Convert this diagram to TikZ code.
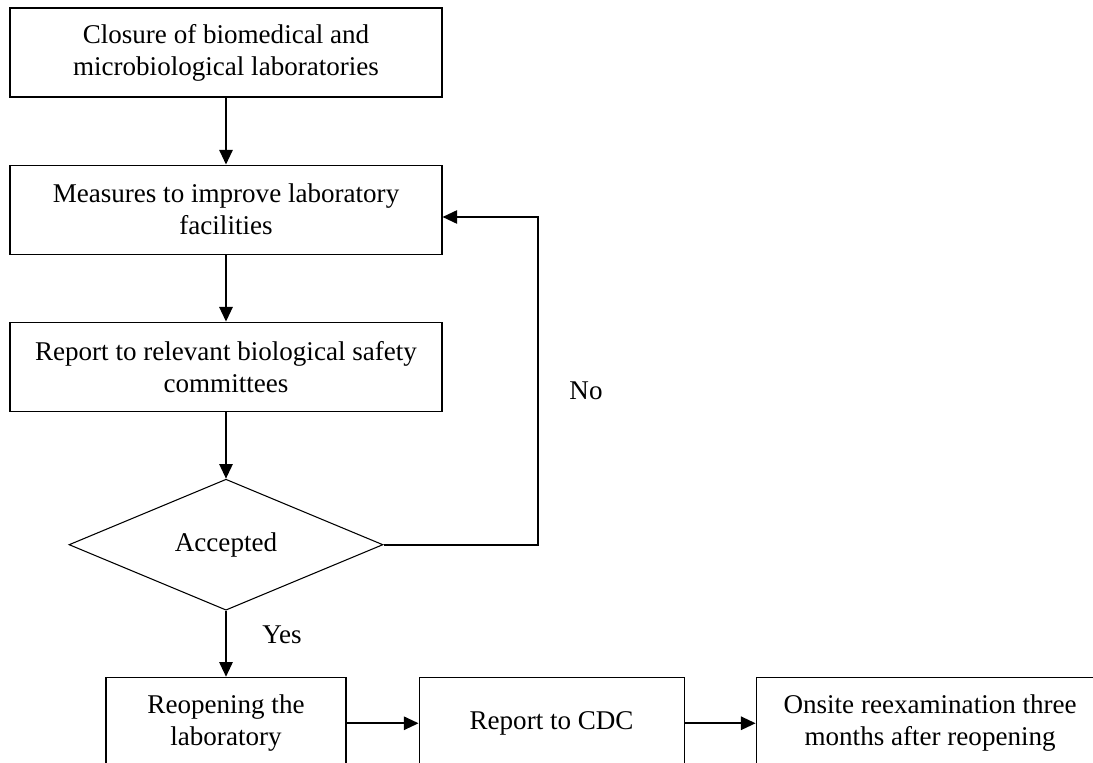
\documentclass[tikz,border=0pt]{standalone}
\usepackage{fontspec}
\setmainfont{Liberation Serif}
\usetikzlibrary{shapes.geometric,arrows.meta,positioning}

\begin{document}
\begin{tikzpicture}[x=0.75pt, y=-0.75pt, node distance={50.25pt}, font=\fontsize{20.3}{24}\selectfont,
  box/.style = {draw, line width=0.8pt, align=center, inner sep=0pt, minimum height=66.75pt},
  choice/.style = {draw, diamond, line width=0.8pt, inner sep=0pt, shape aspect=2.4, minimum width=235.5pt, minimum height=98.25pt},
  flow/.style = {line width=1.4pt, -{Triangle[length=11pt,width=10pt]}}]
\clip (0,0) rectangle (1093,763);
\node[box, minimum width=324pt] (closure) at (226,52.5) {Closure of biomedical and\\microbiological laboratories};
\node[box, minimum width=324pt] (measures) [below=of closure] {Measures to improve laboratory\\facilities};
\node[box, minimum width=324pt] (report) [below=of measures] {Report to relevant biological safety\\committees};
\node[choice] (accepted) [below=of report] {Accepted};
\node[box, minimum width=180pt, minimum height=69pt] (reopen) [below=49.5pt of accepted] {Reopening the\\laboratory};
\node[box, minimum width=198.75pt, minimum height=69pt] (cdc) [right=54pt of reopen] {Report to CDC};
\node[box, minimum width=261pt, minimum height=69pt] (onsite) [right=53.25pt of cdc] {Onsite reexamination three\\months after reopening};
\node (yes) at (282,635) {Yes};
\node (no) at (586,391) {No};
\coordinate (loop) at (538,217);
\draw[flow] (closure) -- (measures);
\draw[flow] (measures) -- (report);
\draw[flow] (report) -- (accepted);
\draw[flow] (accepted) -- (reopen);
\draw[flow] (reopen) -- (cdc);
\draw[flow] (cdc) -- (onsite);
\draw[flow] (accepted.east) -| (loop) -- (measures.east |- loop);
\end{tikzpicture}
\end{document}
